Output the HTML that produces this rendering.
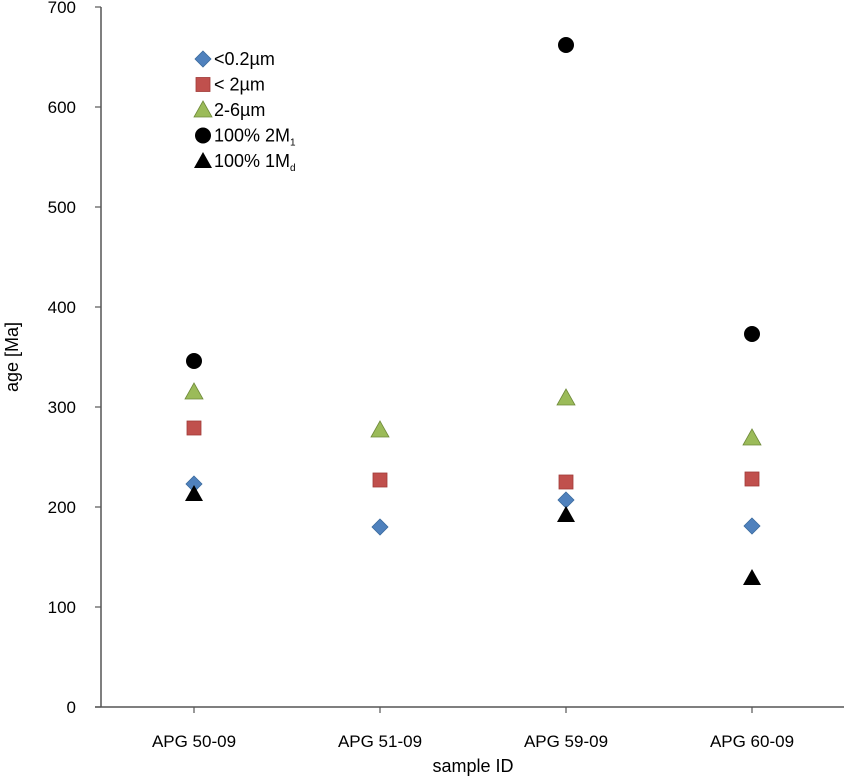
<!DOCTYPE html>
<html><head><meta charset="utf-8"><style>
body{margin:0;background:#fff;}
text{font-family:"Liberation Sans",sans-serif;fill:#000;}
</style></head><body>
<svg id="chart" width="844" height="776" xmlns="http://www.w3.org/2000/svg"></svg>
<script>
const categories=["APG 50-09","APG 51-09","APG 59-09","APG 60-09"];
const yTicks=[0,100,200,300,400,500,600,700];
const fine=[223,180,207,181];
const small=[279,227,225,228];
const mid=[315,277,309,269];
const m2=[346,null,662,373];
const m1=[213,null,192,129];
const svg=document.getElementById('chart');
const NS='http://www.w3.org/2000/svg';
const x0=101,x1=844,yb=707,yt=7;
function y(v){return yb-(v/700)*(yb-yt);}
function x(i){return 194+i*186;}
function el(t,a,p){const e=document.createElementNS(NS,t);for(const k in a)e.setAttribute(k,a[k]);(p||svg).appendChild(e);return e;}
let ax=el('line',{x1:x0,y1:yt,x2:x0,y2:yb,stroke:'#555','stroke-width':1.5});


let bx=el('line',{x1:x0-6,y1:yb,x2:x1,y2:yb,stroke:'#555','stroke-width':1.5});


yTicks.forEach(v=>{
 el('line',{x1:x0-6,y1:y(v),x2:x0,y2:y(v),stroke:'#555','stroke-width':1.2});
 const t=el('text',{x:76,y:y(v)+6,'text-anchor':'end','font-size':17});t.textContent=v;
 
 
});
categories.forEach((c,i)=>{
 el('line',{x1:x(i),y1:yb,x2:x(i),y2:yb+6,stroke:'#555','stroke-width':1.2});
 const t=el('text',{x:x(i),y:747,'text-anchor':'middle','font-size':17});t.textContent=c;
 
 
});
let xt=el('text',{x:473,y:772,'text-anchor':'middle','font-size':18});xt.textContent='sample ID';


let yt2=el('text',{x:0,y:0,'text-anchor':'middle','font-size':18,transform:'translate(18,357) rotate(-90)'});yt2.textContent='age [Ma]';


function marker(type,cx,cy){
 if(type==='d')return el('polygon',{points:`${cx},${cy-8} ${cx+8},${cy} ${cx},${cy+8} ${cx-8},${cy}`,fill:'#4f81bd',stroke:'#3a6a9e','stroke-width':0.8});
 if(type==='s')return el('rect',{x:cx-7,y:cy-7,width:14,height:14,fill:'#c0504d',stroke:'#a03a38','stroke-width':0.8});
 if(type==='t')return el('polygon',{points:`${cx},${cy-9} ${cx+9},${cy+7} ${cx-9},${cy+7}`,fill:'#9bbb59',stroke:'#6f8a3a','stroke-width':0.8});
 if(type==='c')return el('circle',{cx:cx,cy:cy,r:8,fill:'#000'});
 return el('polygon',{points:`${cx},${cy-9} ${cx+9},${cy+7} ${cx-9},${cy+7}`,fill:'#000'});
}
const series=[[fine,'d','fine'],[small,'s','small'],[mid,'t','mid'],[m2,'c','2m1'],[m1,'k','1md']];
series.forEach(([arr,tp,nm])=>{
 arr.forEach((v,i)=>{if(v==null)return;
  const m=marker(tp,x(i),y(v));
  
  
 });
});
const legendLabels=['<0.2µm','< 2µm','2-6µm','100% 2M','100% 1M'];
const legendSubs=['','','','1','d'];
const legendTypes=['d','s','t','c','k'];
legendLabels.forEach((l,i)=>{
 const cy=59+i*25.5;
 const m=marker(legendTypes[i],203,cy);
 
 
 const t=el('text',{x:214,y:cy+6,'font-size':18});t.textContent=l;
 
 
 if(legendSubs[i]){const s=el('tspan',{'font-size':10,dy:4},t);s.textContent=legendSubs[i];}
});
</script>
</body></html>
